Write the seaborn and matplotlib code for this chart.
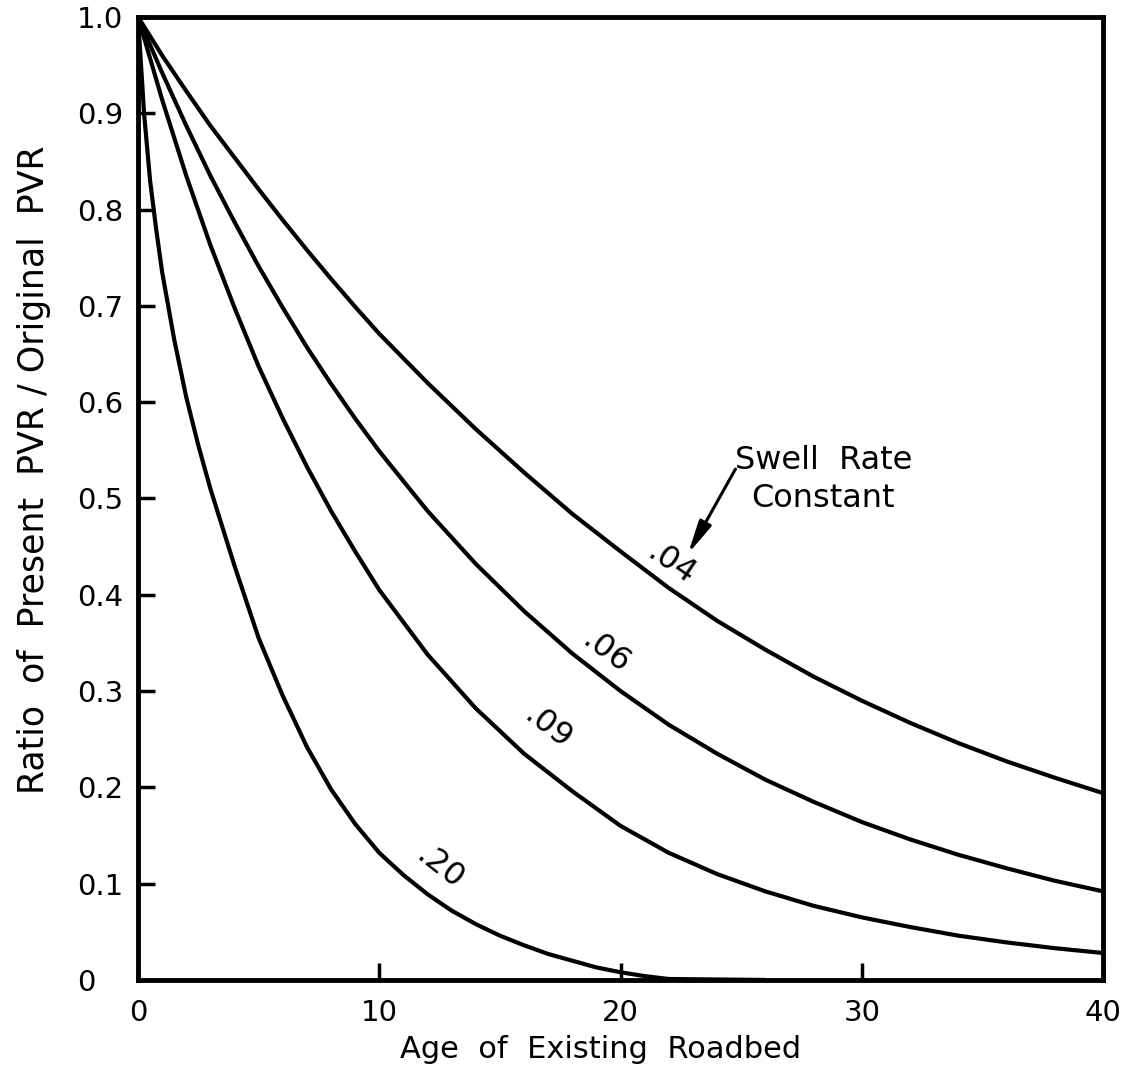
import numpy as np
import pandas as pd
import matplotlib
matplotlib.use("Agg")
import matplotlib.pyplot as plt
import seaborn as sns

# values
age = [0, 1, 2, 3, 4, 5, 6, 7, 8, 9, 10, 12, 14, 16, 18, 20, 22, 24, 26, 28, 30, 32, 34, 36, 38, 40]
ratio_04 = [1.0, 0.96, 0.923, 0.887, 0.854, 0.821, 0.789, 0.758, 0.728, 0.699, 0.671, 0.62, 0.572, 0.527,
            0.484, 0.445, 0.407, 0.373, 0.343, 0.315, 0.29, 0.267, 0.246, 0.227, 0.21, 0.194]
ratio_06 = [1.0, 0.942, 0.887, 0.835, 0.787, 0.741, 0.698, 0.657, 0.619, 0.583, 0.549, 0.487, 0.432, 0.383,
            0.339, 0.30, 0.265, 0.235, 0.208, 0.185, 0.164, 0.146, 0.13, 0.116, 0.103, 0.092]
ratio_09 = [1.0, 0.914, 0.835, 0.763, 0.698, 0.637, 0.583, 0.533, 0.487, 0.445, 0.405, 0.338, 0.282, 0.235,
            0.196, 0.160, 0.132, 0.110, 0.092, 0.077, 0.065, 0.055, 0.046, 0.039, 0.033, 0.028]
age_20 = [0, 0.25, 0.5, 0.75, 1, 1.5, 2, 2.5, 3, 3.5, 4, 5, 6, 7, 8, 9, 10, 11, 12, 13, 14, 15, 16, 17, 18,
          19, 20, 21, 22, 26]
ratio_20 = [1.0, 0.90, 0.83, 0.78, 0.735, 0.665, 0.605, 0.555, 0.51, 0.47, 0.43, 0.355, 0.295, 0.242, 0.198,
            0.162, 0.132, 0.109, 0.089, 0.072, 0.058, 0.046, 0.036, 0.027, 0.02, 0.013, 0.008, 0.004, 0.001, 0.0]

rate_labels = [".04", ".06", ".09", ".20"]
x_ticks = [0, 10, 20, 30, 40]
y_ticks = [0, 0.1, 0.2, 0.3, 0.4, 0.5, 0.6, 0.7, 0.8, 0.9, 1.0]
y_tick_labels = ["0", "0.1", "0.2", "0.3", "0.4", "0.5", "0.6", "0.7", "0.8", "0.9", "1.0"]

sns.set_style("ticks")
plt.rcParams["font.family"] = ["DejaVu Sans"]
plt.rcParams.update({"text.color": "black", "axes.labelcolor": "black", "axes.edgecolor": "black",
                     "xtick.color": "black", "ytick.color": "black"})

df = pd.concat([
    pd.DataFrame({"age": age, "ratio": ratio_04, "rate": ".04"}),
    pd.DataFrame({"age": age, "ratio": ratio_06, "rate": ".06"}),
    pd.DataFrame({"age": age, "ratio": ratio_09, "rate": ".09"}),
    pd.DataFrame({"age": age_20, "ratio": ratio_20, "rate": ".20"}),
])

fig = plt.figure(figsize=(11.36, 10.77), dpi=100)
ax = fig.add_axes([0.1215, 0.0901, 0.8495, 0.8942])

sns.lineplot(data=df, x="age", y="ratio", hue="rate", palette={r: "black" for r in rate_labels},
             estimator=None, sort=False, linewidth=3, legend=False, ax=ax)

ax.set_xlim(0, 40)
ax.set_ylim(0, 1)
ax.set_xticks(x_ticks)
ax.set_xticklabels([str(v) for v in x_ticks])
ax.set_yticks(y_ticks)
ax.set_yticklabels(y_tick_labels)
for s in ax.spines.values():
    s.set_linewidth(3.5)
    s.set_color("black")
ax.tick_params(direction="in", length=12, width=2.5, labelsize=21, top=False, right=False)
ax.tick_params(axis="x", pad=14)
ax.tick_params(axis="y", pad=44)
for lab in ax.get_yticklabels():
    lab.set_horizontalalignment("left")

ax.set_xlabel("Age  of  Existing  Roadbed", fontsize=22)
ax.xaxis.set_label_coords(0.479, -0.057)
ax.set_ylabel("Ratio  of  Present  PVR / Original  PVR", fontsize=25)
ax.yaxis.set_label_coords(-0.09, 0.53)

# curve labels
ax.text(22.1, 0.432, ".04", rotation=-34, ha="center", va="center", fontsize=23, rotation_mode="anchor")
ax.text(19.4, 0.340, ".06", rotation=-37, ha="center", va="center", fontsize=23, rotation_mode="anchor")
ax.text(17.0, 0.262, ".09", rotation=-38, ha="center", va="center", fontsize=23, rotation_mode="anchor")
ax.text(12.5, 0.116, ".20", rotation=-38, ha="center", va="center", fontsize=23, rotation_mode="anchor")

ax.annotate("", xy=(22.74, 0.44), xytext=(24.82, 0.533),
            arrowprops=dict(arrowstyle="-|>,head_length=0.8,head_width=0.16", color="black", lw=2.2,
                            mutation_scale=25))
ax.text(28.4, 0.556, "Swell  Rate\nConstant", ha="center", va="top", fontsize=23, linespacing=1.3)

plt.savefig("out.png", dpi=100)
